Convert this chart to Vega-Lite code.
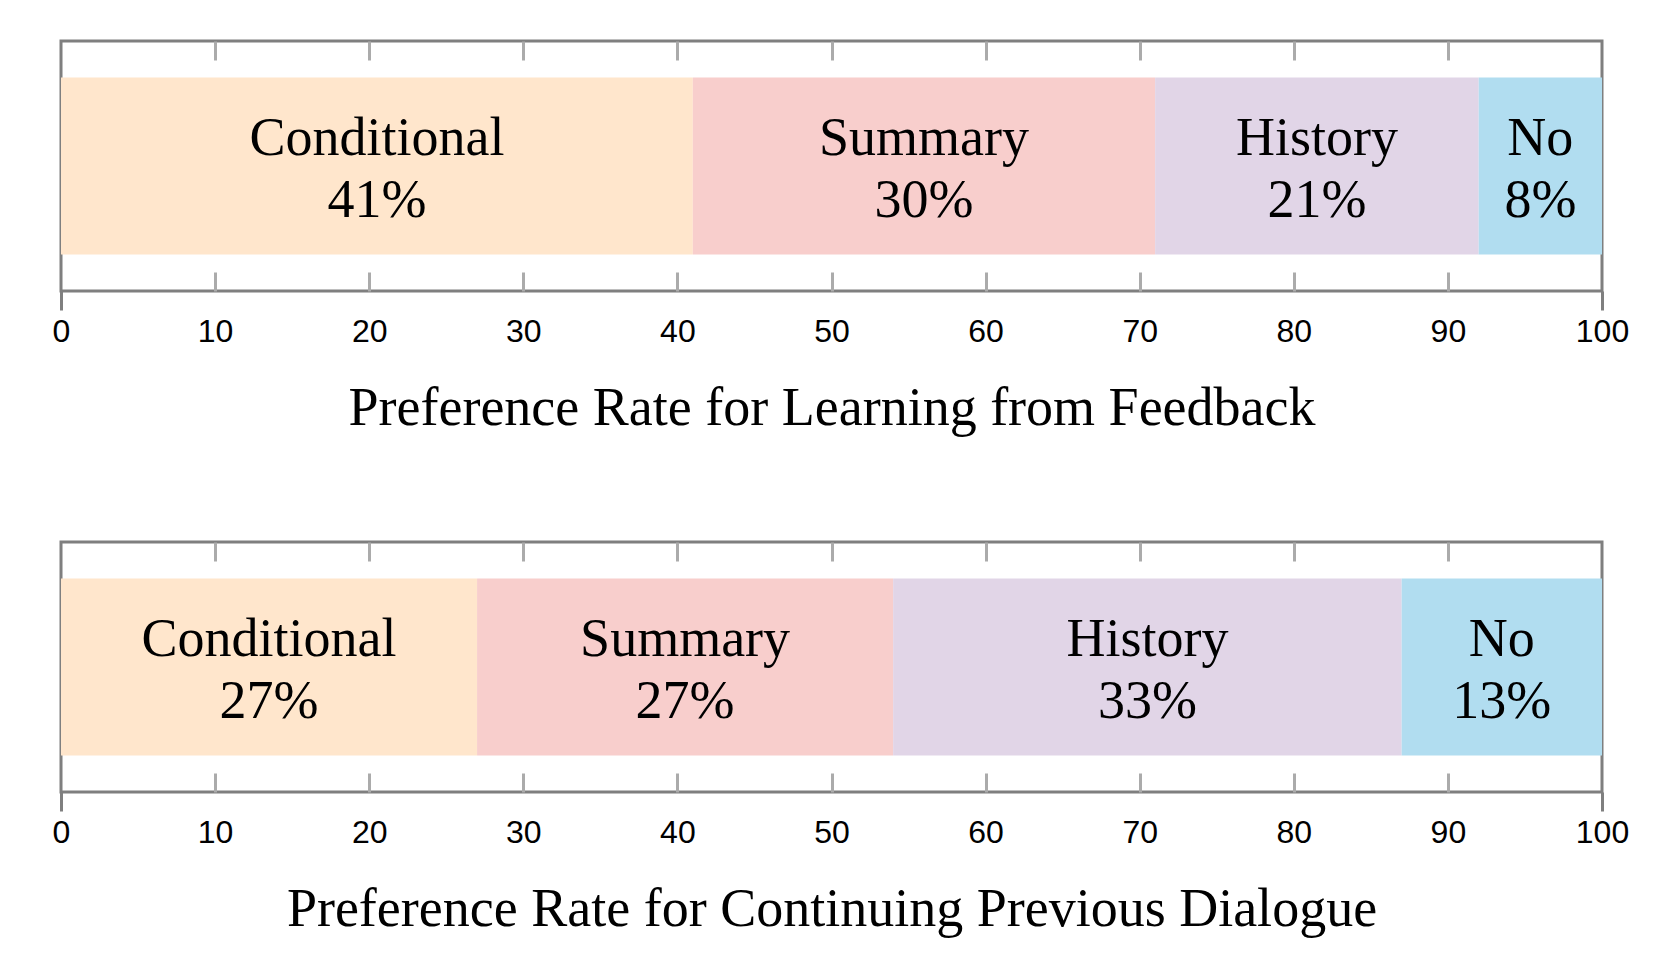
{
  "$schema": "https://vega.github.io/schema/vega-lite/v6.json",
  "padding": {"left": 50, "top": 38, "right": 10, "bottom": 10},
  "background": "white",
  "bounds": "flush",
  "spacing": 251,
  "config": {
    "view": {"stroke": "#7f7f7f", "strokeWidth": 3}
  },
  "data": {
    "values": [
      {"question": "Learning from Feedback", "option": "Conditional", "share": 0.41, "rank": 1},
      {"question": "Learning from Feedback", "option": "Summary", "share": 0.30, "rank": 2},
      {"question": "Learning from Feedback", "option": "History", "share": 0.21, "rank": 3},
      {"question": "Learning from Feedback", "option": "No", "share": 0.08, "rank": 4},
      {"question": "Continuing Previous Dialogue", "option": "Conditional", "share": 0.27, "rank": 1},
      {"question": "Continuing Previous Dialogue", "option": "Summary", "share": 0.27, "rank": 2},
      {"question": "Continuing Previous Dialogue", "option": "History", "share": 0.33, "rank": 3},
      {"question": "Continuing Previous Dialogue", "option": "No", "share": 0.13, "rank": 4}
    ]
  },
  "vconcat": [
    {
      "width": 1541,
      "height": 250,
      "transform": [{"filter": "datum.question === 'Learning from Feedback'"}],
      "encoding": {
        "y": {"field": "question", "type": "nominal", "axis": null, "scale": {"paddingInner": 0, "paddingOuter": 0.206}},
        "order": {"field": "rank", "type": "quantitative"}
      },
      "layer": [
        {
          "mark": {"type": "bar"},
          "encoding": {
            "x": {
              "field": "share", "type": "quantitative", "stack": "zero",
              "scale": {"domain": [0, 1], "nice": false, "zero": true},
              "axis": {
                "orient": "bottom",
                "values": [0, 0.1, 0.2, 0.3, 0.4, 0.5, 0.6, 0.7, 0.8, 0.9, 1],
                "labelExpr": "'' + round(datum.value * 100)",
                "labelFont": "Liberation Sans", "labelFontSize": 32, "labelColor": "#000000",
                "labelPadding": 6, "labelFlush": false, "labelOverlap": false,
                "domain": false, "grid": false,
                "tickSize": 19, "tickWidth": 3, "tickColor": "#7f7f7f",
                "tickOpacity": {"condition": {"test": "datum.value === 0 || datum.value === 1", "value": 1}, "value": 0},
                "title": "Preference Rate for Learning from Feedback",
                "titleFont": "Liberation Serif", "titleFontSize": 54, "titleFontWeight": "normal",
                "titleColor": "#000000", "titleBaseline": "alphabetic", "titlePadding": 77
              }
            },
            "color": {
              "field": "option", "type": "nominal", "legend": null,
              "scale": {"domain": ["Conditional", "Summary", "History", "No"], "range": ["#FFE6CC", "#F8CECC", "#E1D5E7", "#B1DDF0"]}
            }
          }
        },
        {
          "mark": {"type": "text", "font": "Liberation Serif", "fontSize": 54, "baseline": "alphabetic", "dy": -11, "color": "#000000"},
          "encoding": {
            "x": {
              "field": "share", "type": "quantitative", "stack": "zero", "bandPosition": 0.5,
              "axis": {"orient": "top", "offset": -19, "values": [0.1, 0.2, 0.3, 0.4, 0.5, 0.6, 0.7, 0.8, 0.9], "labels": false, "domain": false, "grid": false, "tickSize": 19, "tickWidth": 3, "tickColor": "#ababab", "title": null}
            },
            "detail": {"field": "option", "type": "nominal"},
            "text": {"field": "option", "type": "nominal"}
          }
        },
        {
          "mark": {"type": "text", "font": "Liberation Serif", "fontSize": 54, "baseline": "alphabetic", "dy": 51, "color": "#000000"},
          "encoding": {
            "x": {
              "field": "share", "type": "quantitative", "stack": "zero", "bandPosition": 0.5,
              "axis": {"orient": "bottom", "offset": -19, "values": [0.1, 0.2, 0.3, 0.4, 0.5, 0.6, 0.7, 0.8, 0.9], "labels": false, "domain": false, "grid": false, "tickSize": 19, "tickWidth": 3, "tickColor": "#ababab", "title": null}
            },
            "detail": {"field": "option", "type": "nominal"},
            "text": {"field": "share", "type": "quantitative", "format": ".0%"}
          }
        }
      ],
      "resolve": {"axis": {"x": "independent"}}
    },
    {
      "width": 1541,
      "height": 250,
      "transform": [{"filter": "datum.question === 'Continuing Previous Dialogue'"}],
      "encoding": {
        "y": {"field": "question", "type": "nominal", "axis": null, "scale": {"paddingInner": 0, "paddingOuter": 0.206}},
        "order": {"field": "rank", "type": "quantitative"}
      },
      "layer": [
        {
          "mark": {"type": "bar"},
          "encoding": {
            "x": {
              "field": "share", "type": "quantitative", "stack": "zero",
              "scale": {"domain": [0, 1], "nice": false, "zero": true},
              "axis": {
                "orient": "bottom",
                "values": [0, 0.1, 0.2, 0.3, 0.4, 0.5, 0.6, 0.7, 0.8, 0.9, 1],
                "labelExpr": "'' + round(datum.value * 100)",
                "labelFont": "Liberation Sans", "labelFontSize": 32, "labelColor": "#000000",
                "labelPadding": 6, "labelFlush": false, "labelOverlap": false,
                "domain": false, "grid": false,
                "tickSize": 19, "tickWidth": 3, "tickColor": "#7f7f7f",
                "tickOpacity": {"condition": {"test": "datum.value === 0 || datum.value === 1", "value": 1}, "value": 0},
                "title": "Preference Rate for Continuing Previous Dialogue",
                "titleFont": "Liberation Serif", "titleFontSize": 54, "titleFontWeight": "normal",
                "titleColor": "#000000", "titleBaseline": "alphabetic", "titlePadding": 77
              }
            },
            "color": {
              "field": "option", "type": "nominal", "legend": null,
              "scale": {"domain": ["Conditional", "Summary", "History", "No"], "range": ["#FFE6CC", "#F8CECC", "#E1D5E7", "#B1DDF0"]}
            }
          }
        },
        {
          "mark": {"type": "text", "font": "Liberation Serif", "fontSize": 54, "baseline": "alphabetic", "dy": -11, "color": "#000000"},
          "encoding": {
            "x": {
              "field": "share", "type": "quantitative", "stack": "zero", "bandPosition": 0.5,
              "axis": {"orient": "top", "offset": -19, "values": [0.1, 0.2, 0.3, 0.4, 0.5, 0.6, 0.7, 0.8, 0.9], "labels": false, "domain": false, "grid": false, "tickSize": 19, "tickWidth": 3, "tickColor": "#ababab", "title": null}
            },
            "detail": {"field": "option", "type": "nominal"},
            "text": {"field": "option", "type": "nominal"}
          }
        },
        {
          "mark": {"type": "text", "font": "Liberation Serif", "fontSize": 54, "baseline": "alphabetic", "dy": 51, "color": "#000000"},
          "encoding": {
            "x": {
              "field": "share", "type": "quantitative", "stack": "zero", "bandPosition": 0.5,
              "axis": {"orient": "bottom", "offset": -19, "values": [0.1, 0.2, 0.3, 0.4, 0.5, 0.6, 0.7, 0.8, 0.9], "labels": false, "domain": false, "grid": false, "tickSize": 19, "tickWidth": 3, "tickColor": "#ababab", "title": null}
            },
            "detail": {"field": "option", "type": "nominal"},
            "text": {"field": "share", "type": "quantitative", "format": ".0%"}
          }
        }
      ],
      "resolve": {"axis": {"x": "independent"}}
    }
  ]
}
